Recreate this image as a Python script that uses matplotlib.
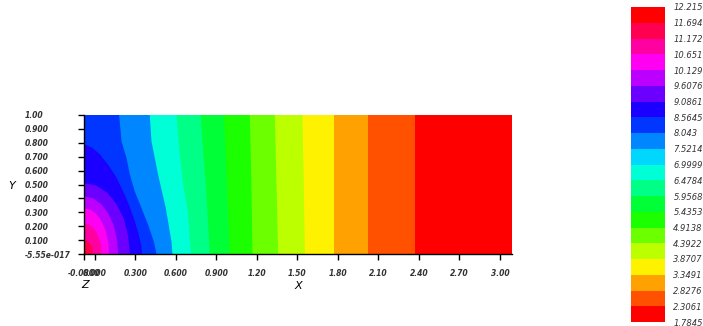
import colorsys

import matplotlib
matplotlib.use("Agg")
import matplotlib.pyplot as plt

# ---- data ------------------------------------------------------------------
# domain of the field
domain_x = [-0.08, 3.09]
domain_y = [0.0, 1.0]

# legend levels (top -> bottom) as printed
legend_labels = ["12.215", "11.694", "11.172", "10.651", "10.129", "9.6076",
                 "9.0861", "8.5645", "8.043", "7.5214", "6.9999", "6.4784",
                 "5.9568", "5.4353", "4.9138", "4.3922", "3.8707", "3.3491",
                 "2.8276", "2.3061", "1.7845"]

# band boundaries in the field, numbered from the right (low) side.
# each one is traced from the bottom edge up to the top or left edge.
b01_x = [2.37, 2.37]
b01_y = [0.0, 1.0]
b02_x = [2.027, 2.027]
b02_y = [0.0, 1.0]
b03_x = [1.770, 1.770]
b03_y = [0.0, 1.0]
b04_x = [1.556, 1.548, 1.538]
b04_y = [0.0, 0.5, 1.0]
b05_x = [1.358, 1.346, 1.333]
b05_y = [0.0, 0.5, 1.0]
b06_x = [1.168, 1.160, 1.148]
b06_y = [0.0, 0.5, 1.0]
b07_x = [1.000, 0.980, 0.958]
b07_y = [0.0, 0.5, 1.0]
b08_x = [0.852, 0.822, 0.783]
b08_y = [0.0, 0.5, 1.0]
b09_x = [0.711, 0.690, 0.654, 0.625, 0.605]
b09_y = [0.0, 0.3, 0.5, 0.75, 1.0]
b10_x = [0.575, 0.568, 0.526, 0.469, 0.420, 0.407]
b10_y = [0.0, 0.09, 0.33, 0.57, 0.81, 1.0]
b11_x = [0.457, 0.437, 0.395, 0.346, 0.296, 0.260, 0.235, 0.198, 0.180]
b11_y = [0.0, 0.09, 0.21, 0.33, 0.45, 0.57, 0.69, 0.81, 1.0]
b12_x = [0.350, 0.345, 0.325, 0.295, 0.255, 0.210, 0.160, 0.100, 0.035,
         -0.020, -0.080]
b12_y = [0.0, 0.06, 0.14, 0.24, 0.35, 0.45, 0.55, 0.64, 0.72, 0.765, 0.79]
b13_x = [0.259, 0.247, 0.214, 0.160, 0.090, 0.008, -0.080]
b13_y = [0.0, 0.132, 0.255, 0.361, 0.442, 0.493, 0.510]
b14_x = [0.173, 0.164, 0.139, 0.099, 0.047, -0.014, -0.080]
b14_y = [0.0, 0.107, 0.208, 0.293, 0.359, 0.401, 0.415]
b15_x = [0.106, 0.100, 0.081, 0.052, 0.013, -0.032, -0.080]
b15_y = [0.0, 0.085, 0.165, 0.233, 0.286, 0.319, 0.330]
b16_x = [0.050, 0.046, 0.033, 0.012, -0.015, -0.046, -0.080]
b16_y = [0.0, 0.057, 0.110, 0.156, 0.191, 0.213, 0.220]
b17_x = [-0.012, -0.014, -0.021, -0.032, -0.046, -0.062, -0.080]
b17_y = [0.0, 0.026, 0.050, 0.071, 0.087, 0.097, 0.100]
b18_x = [-0.062, -0.063, -0.064, -0.067, -0.071, -0.075, -0.080]
b18_y = [0.0, 0.010, 0.020, 0.028, 0.035, 0.039, 0.040]

x_ticks = [-0.08, 0.0, 0.3, 0.6, 0.9, 1.2, 1.5, 1.8, 2.1, 2.4, 2.7, 3.0]
x_tick_labels = ["-0.0800", "0.000", "0.300", "0.600", "0.900", "1.20",
                 "1.50", "1.80", "2.10", "2.40", "2.70", "3.00"]
y_ticks = [0.0, 0.1, 0.2, 0.3, 0.4, 0.5, 0.6, 0.7, 0.8, 0.9, 1.0]
y_tick_labels = ["-5.55e-017", "0.100", "0.200", "0.300", "0.400", "0.500",
                 "0.600", "0.700", "0.800", "0.900", "1.00"]

# ---- colours: 20 hue steps, red -> ... -> red ------------------------------
n_legend = len(legend_labels) - 1
legend_colors = [colorsys.hsv_to_rgb(i / (n_legend - 1), 1.0, 1.0)
                 for i in range(n_legend)]
# the field shows every legend colour except the sky-blue one
band_colors = legend_colors[:10] + legend_colors[11:]

boundaries = [(b01_x, b01_y), (b02_x, b02_y), (b03_x, b03_y), (b04_x, b04_y),
              (b05_x, b05_y), (b06_x, b06_y), (b07_x, b07_y), (b08_x, b08_y),
              (b09_x, b09_y), (b10_x, b10_y), (b11_x, b11_y), (b12_x, b12_y),
              (b13_x, b13_y), (b14_x, b14_y), (b15_x, b15_y), (b16_x, b16_y),
              (b17_x, b17_y), (b18_x, b18_y)]

plt.rcParams["font.family"] = "DejaVu Sans"
W, H = 703, 326
fig = plt.figure(figsize=(W / 100, H / 100), dpi=100)

# ---- field -----------------------------------------------------------------
ax = fig.add_axes([84 / W, 72 / H, 428 / W, 139 / H])
x0, x1 = domain_x
y0, y1 = domain_y
ax.fill([x0, x1, x1, x0], [y0, y0, y1, y1], color=band_colors[0], lw=0)
# painter's order: each boundary paints everything to its left
for k, (bx, by) in enumerate(boundaries, start=1):
    px = list(bx) + [x0, x0]
    py = list(by) + [by[-1], y0]
    ax.fill(px, py, color=band_colors[k], lw=0)

ax.set_xlim(x0, x1)
ax.set_ylim(y0, y1)
for side in ("top", "right"):
    ax.spines[side].set_visible(False)
for side in ("left", "bottom"):
    ax.spines[side].set_linewidth(1.0)
ax.set_xticks(x_ticks)
ax.set_xticklabels(x_tick_labels)
ax.set_yticks(y_ticks)
ax.set_yticklabels(y_tick_labels)
tick_font = dict(fontsize=5.5, fontstyle="italic", fontweight="bold",
                 color="#333333")
ax.tick_params(axis="both", direction="out", length=4.5, width=1.0)
ax.tick_params(axis="x", pad=6)
ax.tick_params(axis="y", pad=38)
for lab in ax.get_xticklabels():
    lab.update(tick_font)
for lab in ax.get_yticklabels():
    lab.update(tick_font)
    lab.set_ha("left")

fig.text(8 / W, 1 - 186 / H, "Y", fontsize=8, fontstyle="italic",
         ha="left", va="center")
fig.text(298 / W, 1 - 286 / H, "X", fontsize=8, fontstyle="italic",
         ha="center", va="center")
fig.text(85 / W, 1 - 285 / H, "Z", fontsize=8, fontstyle="italic",
         ha="center", va="center")

# ---- legend bar ------------------------------------------------------------
cax = fig.add_axes([631 / W, 4 / H, 34 / W, 315 / H])
rows = list(range(n_legend))
cax.bar([0] * n_legend, [1] * n_legend, bottom=rows, width=1.0,
        color=legend_colors, lw=0, align="edge")
cax.set_xlim(0, 1)
cax.set_ylim(0, n_legend)
cax.set_xticks([])
cax.set_yticks(list(range(n_legend + 1)))
cax.set_yticklabels(legend_labels[::-1])
cax.yaxis.tick_right()
cax.tick_params(axis="y", length=0, pad=6)
for lab in cax.get_yticklabels():
    lab.update(dict(fontsize=6, fontstyle="italic", color="#333333"))
for side in cax.spines.values():
    side.set_visible(False)

fig.savefig("out.png", dpi=100)
